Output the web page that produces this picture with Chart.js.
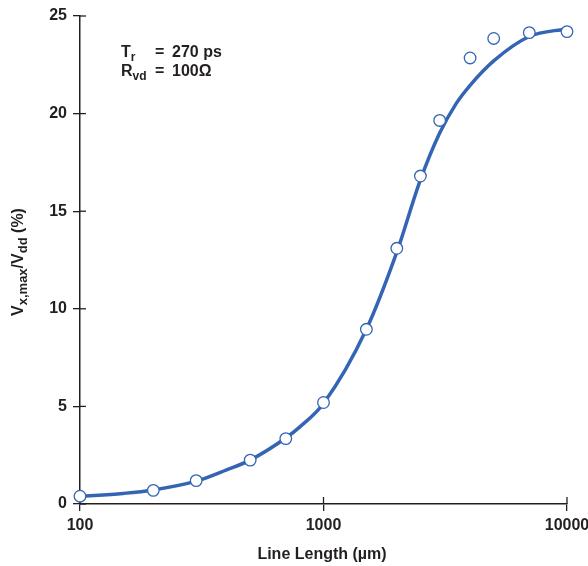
<!DOCTYPE html>
<html><head><meta charset="utf-8">
<script src="https://cdn.jsdelivr.net/npm/chart.js@4"></script>
<style>html,body{margin:0;padding:0;background:#fff}#wrap{width:588px;height:566px;position:relative}canvas{display:block}</style>
</head><body><div id="wrap"><canvas id="c" width="588" height="566" style="width:588px;height:566px"></canvas></div>
<script>
// Measured points: line length (µm) vs Vx,max/Vdd (%)
const lineLengths = [100, 200, 300, 500, 700, 1000, 1500, 2000, 2500, 3000, 4000, 5000, 7000, 10000];
const measured    = [0.4, 0.7, 1.2, 2.25, 3.35, 5.2, 8.95, 13.1, 16.8, 19.65, 22.85, 23.85, 24.15, 24.2];
// Fitted curve
const fitLengths = [100, 150, 200, 300, 400, 500, 700, 800, 1000, 1500, 2000, 2500, 3000, 3500, 4000, 5000, 7000, 10000];
const fitValues  = [0.38, 0.54, 0.72, 1.17, 1.75, 2.25, 3.38, 3.95, 5.15, 8.95, 12.9, 16.6, 19.0, 20.5, 21.45, 22.7, 23.95, 24.35];
const xTicks = [100, 1000, 10000];
const yTicks = [0, 5, 10, 15, 20, 25];
const xTitle = 'Line Length (\u00b5m)';
const annotation = [['T', 'r', '270 ps'], ['R', 'vd', '100\u03a9']];

const BLUE = 'rgb(52,101,180)';
const INK = '#231f20';
const FONT = '"Liberation Sans Narrow", "Liberation Sans", Arial, sans-serif';

const extras = {
  id: 'extras',
  beforeDatasetsDraw(chart) {
    const {ctx, scales: {x, y}, chartArea: a} = chart;
    ctx.save();
    ctx.strokeStyle = INK; ctx.lineWidth = 1.3;
    yTicks.forEach(v => { const p = y.getPixelForValue(v); ctx.beginPath(); ctx.moveTo(a.left, p); ctx.lineTo(a.left + 6, p); ctx.stroke(); });
    xTicks.forEach(v => { const p = x.getPixelForValue(v); ctx.beginPath(); ctx.moveTo(p, a.bottom); ctx.lineTo(p, a.bottom - 7); ctx.stroke(); });
    ctx.restore();
  },
  afterDraw(chart) {
    const {ctx, chartArea: a} = chart;
    ctx.save();
    ctx.fillStyle = INK;
    ctx.textBaseline = 'alphabetic';
    // x title
    ctx.font = 'bold 16px ' + FONT;
    ctx.textAlign = 'center';
    ctx.fillText(xTitle, 322, 559);
    // y title with subscripts
    ctx.textAlign = 'left';
    const main = 'bold 16px ' + FONT, sub = 'bold 13px ' + FONT;
    const parts = [['V', main, 0], ['x,max', sub, 4], ['/V', main, 0], ['dd', sub, 4], [' (%)', main, 0]];
    let total = 0;
    parts.forEach(p => { ctx.font = p[1]; total += ctx.measureText(p[0]).width; });
    ctx.translate(23, 262);
    ctx.rotate(-Math.PI / 2);
    let cx = -total / 2;
    parts.forEach(p => { ctx.font = p[1]; ctx.fillText(p[0], cx, p[2]); cx += ctx.measureText(p[0]).width; });
    ctx.restore();
    // annotation
    ctx.save();
    ctx.fillStyle = INK;
    const base = [57, 76];
    annotation.forEach((row, i) => {
      ctx.font = 'bold 16px ' + FONT;
      ctx.fillText(row[0], 121, base[i]);
      const w = ctx.measureText(row[0]).width;
      ctx.font = 'bold 12px ' + FONT;
      ctx.fillText(row[1], 121 + w, base[i] + 4);
      ctx.font = 'bold 16px ' + FONT;
      ctx.fillText('=', 155, base[i]);
      ctx.fillText(row[2], 172, base[i]);
    });
    ctx.restore();
  }
};

new Chart(document.getElementById('c'), {
  type: 'scatter',
  data: {
    datasets: [
      {
        label: 'fit',
        data: fitLengths.map((v, i) => ({x: v, y: fitValues[i]})),
        showLine: true, borderColor: BLUE, borderWidth: 3.5,
        pointRadius: 0, cubicInterpolationMode: 'monotone', clip: false, order: 2
      },
      {
        label: 'measured',
        data: lineLengths.map((v, i) => ({x: v, y: measured[i]})),
        showLine: false, pointRadius: 5.8, pointBackgroundColor: '#fff',
        pointBorderColor: BLUE, pointBorderWidth: 1.3, clip: false, order: 1
      }
    ]
  },
  options: {
    responsive: false, animation: false, devicePixelRatio: 1,
    layout: {padding: {top: 16, right: 21, left: 0, bottom: 0}},
    plugins: {legend: {display: false}, tooltip: {enabled: false}},
    scales: {
      x: {
        type: 'logarithmic', min: 100, max: 10000,
        afterBuildTicks: s => { s.ticks = xTicks.map(v => ({value: v})); },
        afterFit: s => { s.height = 62; s.paddingLeft = 0; s.paddingRight = 0; },
        ticks: {callback: v => String(v), color: INK, font: {family: FONT, size: 16, weight: 'bold'}, padding: 5, maxRotation: 0, autoSkip: false},
        grid: {drawOnChartArea: false, drawTicks: true, tickLength: 7, color: INK, lineWidth: 1.3},
        border: {display: true, color: INK, width: 1.5}
      },
      y: {
        min: 0, max: 25,
        afterBuildTicks: s => { s.ticks = yTicks.map(v => ({value: v})); },
        afterFit: s => { s.width = 80; s.paddingTop = 0; s.paddingBottom = 0; },
        ticks: {color: INK, font: {family: FONT, size: 16, weight: 'bold'}, padding: 6, autoSkip: false},
        grid: {drawOnChartArea: false, drawTicks: true, tickLength: 7, color: INK, lineWidth: 1.3},
        border: {display: true, color: INK, width: 1.5}
      }
    }
  },
  plugins: [extras]
});
</script>
</body></html>
